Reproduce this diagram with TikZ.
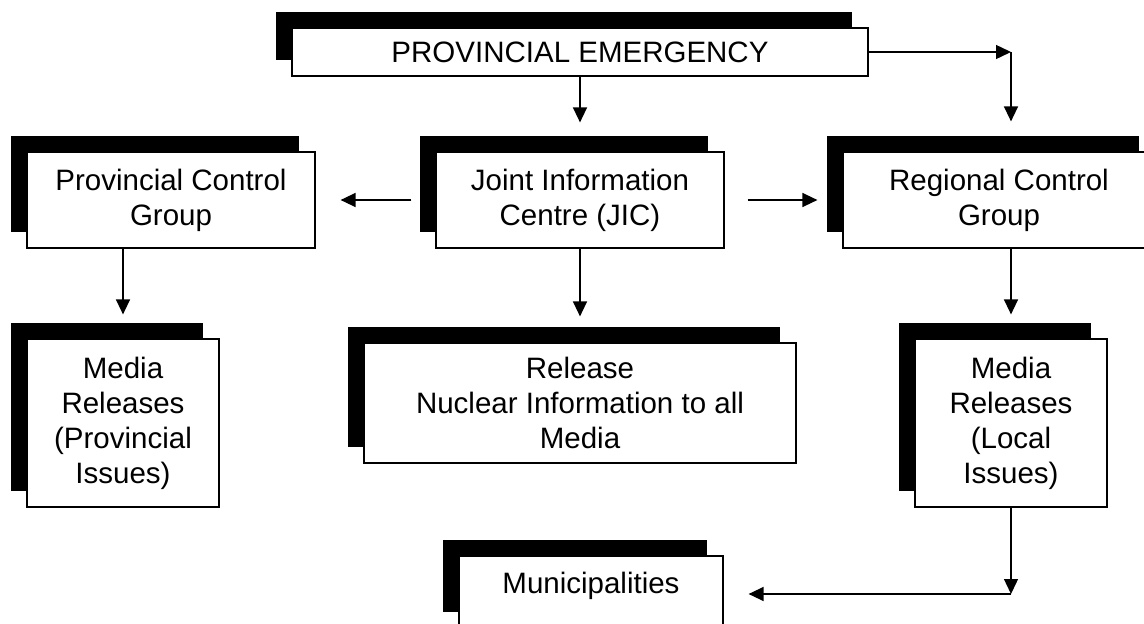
\documentclass[tikz,border=0pt]{standalone}
\usepackage{fontspec}
\setmainfont{Liberation Sans}
\usetikzlibrary{arrows.meta,shadows,calc}

\begin{document}
\begin{tikzpicture}[x=1pt,y=-1pt,
  box/.style={draw=black, line width=1.2pt, fill=white,
    general shadow={fill=black, shadow xshift=-16pt, shadow yshift=16pt},
    align=center, inner sep=0pt,
    font=\fontsize{29.5}{35}\selectfont},
  link/.style={line width=1.4pt, -{Triangle[length=15pt,width=14pt]}}
]
\useasboundingbox (0,0) rectangle (1144,624);

% boxes (white face; the black block sits up and to the left)
\node[box, minimum width=576pt, minimum height=48pt] (top) at (580,52) {PROVINCIAL EMERGENCY};
\node[box, minimum width=288pt, minimum height=96pt] (pcg) at (171,200) {Provincial Control\\Group};
\node[box, minimum width=288pt, minimum height=96pt] (jic) at (580,200) {Joint Information\\Centre (JIC)};
\node[box, minimum width=312pt, minimum height=96pt] (reg) at (999,200) {Regional Control\\Group};
\node[box, minimum width=192pt, minimum height=168pt] (mrp) at (123,423) {Media\\Releases\\(Provincial\\Issues)};
\node[box, minimum width=432pt, minimum height=120pt] (rel) at (580,403) {Release\\Nuclear Information to all\\Media};
\node[box, minimum width=192pt, minimum height=168pt] (mrl) at (1011,423) {Media\\Releases\\(Local\\Issues)};
\node[box, minimum width=264pt, minimum height=72pt, text height=22pt, text depth=20pt] (mun) at (591,592) {Municipalities};

% corner points of the elbow connectors
\coordinate (c1) at (top.east -| mrl.north);
\coordinate (c2) at (1011,594);

% connectors
\draw[link, shorten >=29pt] (top.south) -- (jic.north);
\draw[link] (top.east) -- (c1);
\draw[link, shorten >=30pt] (c1) -- (c1 |- reg.north);
\draw[link, shorten <=24pt, shorten >=25pt] (jic.west) -- (pcg.east);
\draw[link, shorten <=23pt, shorten >=25pt] (jic.east) -- (reg.west);
\draw[link, shorten >=24pt] (pcg.south -| mrp.north) -- (mrp.north);
\draw[link, shorten >=26pt] (jic.south) -- (rel.north);
\draw[link, shorten >=24pt] (reg.south -| mrl.north) -- (mrl.north);
\draw[link] (mrl.south) -- (c2);
\draw[link, shorten >=25pt] (c2) -- (c2 -| mun.east);
\end{tikzpicture}
\end{document}
